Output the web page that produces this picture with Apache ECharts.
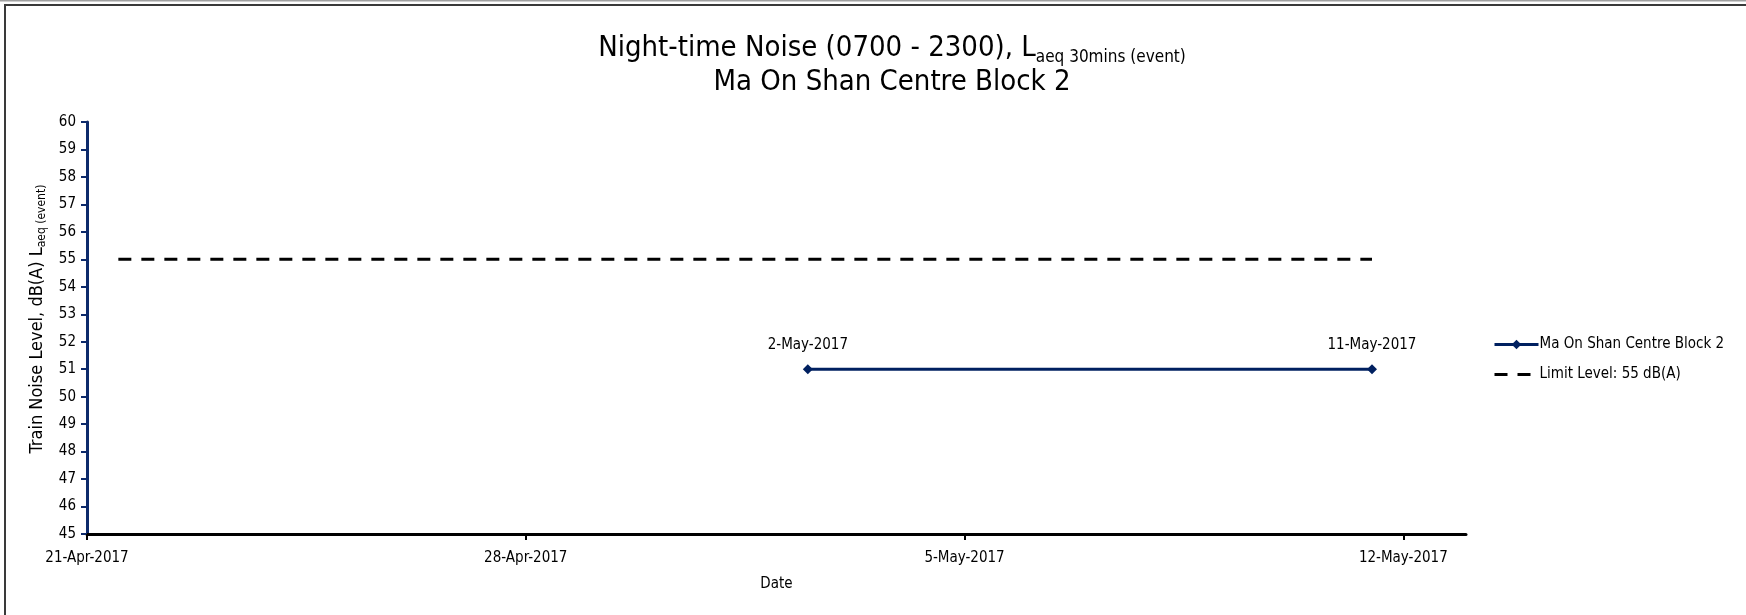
<!DOCTYPE html>
<html>
<head>
<meta charset="utf-8">
<title>Night-time Noise - Ma On Shan Centre Block 2</title>
<script src="https://cdn.jsdelivr.net/npm/echarts@6/dist/echarts.min.js"></script>
<style>
  html, body { margin: 0; padding: 0; background: #fff; }
  #chart { width: 1746px; height: 615px; }
</style>
</head>
<body>
<div id="chart"></div>
<script>
// data
var axisStart = '2017-04-21';
var axisEnd = '2017-05-13';
var tickDates = ['2017-04-21', '2017-04-28', '2017-05-05', '2017-05-12'];

var stationName = 'Ma On Shan Centre Block 2';
var stationDates = ['2017-05-02T12:00', '2017-05-11T12:00'];
var stationValues = [51, 51];

var limitName = 'Limit Level: 55 dB(A)';
var limitDates = ['2017-04-21T12:00', '2017-05-11T12:00'];
var limitValues = [55, 55];

var MONTHS = ['Jan', 'Feb', 'Mar', 'Apr', 'May', 'Jun', 'Jul', 'Aug', 'Sep', 'Oct', 'Nov', 'Dec'];
var FONT = '"Liberation Sans Narrow", "Arial Narrow", "DejaVu Sans Condensed", "Roboto Condensed", sans-serif';

function toMs(s) {
    return Date.parse((s.length === 10 ? s + 'T00:00' : s) + ':00Z');
}
// days from axis start, so ticks can count from min = 0
function dayOffset(s) {
    return (toMs(s) - toMs(axisStart)) / 864e5;
}
function fmtDay(off) {
    var d = new Date(toMs(axisStart) + off * 864e5);
    return d.getUTCDate() + '-' + MONTHS[d.getUTCMonth()] + '-' + d.getUTCFullYear();
}
function pairs(dates, values) {
    return dates.map(function (d, i) { return [dayOffset(d), values[i]]; });
}

var tickOffsets = tickDates.map(dayOffset);

var myChart = echarts.init(document.getElementById('chart'));

var option = {
    backgroundColor: '#fff',
    textStyle: { fontFamily: FONT, color: '#000' },
    graphic: [
        { type: 'line', shape: { x1: 0, y1: 0.5, x2: 1746, y2: 0.5 }, style: { stroke: '#a0a0a0', lineWidth: 2 } },
        { type: 'line', shape: { x1: 4, y1: 5, x2: 1746, y2: 5 }, style: { stroke: '#3a3a3a', lineWidth: 2 } },
        { type: 'line', shape: { x1: 5, y1: 5, x2: 5, y2: 615 }, style: { stroke: '#3a3a3a', lineWidth: 2 } },
        // chart title (sits a bit right of the page centre, as in the original)
        {
            type: 'text',
            x: 892,
            y: 29,
            style: {
                text: '{a|Night-time Noise (0700 - 2300), L}{s|aeq 30mins (event)}\n{a|Ma On Shan Centre Block 2}',
                align: 'center',
                verticalAlign: 'top',
                fill: '#000',
                rich: {
                    a: { fontFamily: FONT, fontSize: 29, lineHeight: 34, fill: '#000', verticalAlign: 'bottom' },
                    s: { fontFamily: FONT, fontSize: 17, lineHeight: 17, fill: '#000', verticalAlign: 'bottom', padding: [0, 0, -3, 0] }
                }
            }
        }
    ],
    legend: {
        orient: 'vertical',
        left: 1488,
        top: 332,
        itemWidth: 44,
        itemHeight: 12,
        itemGap: 15,
        textStyle: { fontFamily: FONT, fontSize: 15, color: '#000', padding: [0, 0, 0, -4] },
        data: [
            { name: stationName, lineStyle: { width: 3 } },
            { name: limitName, lineStyle: { width: 3 }, itemStyle: { opacity: 0 } }
        ]
    },
    grid: { left: 87, right: 280, top: 122, bottom: 81, containLabel: false },
    xAxis: {
        type: 'value',
        min: 0,
        max: dayOffset(axisEnd),
        interval: 7,
        name: 'Date',
        nameLocation: 'middle',
        nameGap: 43,
        nameTextStyle: { fontFamily: FONT, fontSize: 15, color: '#000' },
        axisLine: { onZero: false, lineStyle: { color: '#000', width: 3 } },
        axisTick: { show: true, length: 6, customValues: tickOffsets, lineStyle: { color: '#000', width: 2 } },
        axisLabel: {
            margin: 17,
            fontFamily: FONT, fontSize: 15, color: '#000',
            customValues: tickOffsets,
            formatter: function (v) { return fmtDay(v); }
        },
        splitLine: { show: false }
    },
    yAxis: {
        type: 'value',
        min: 45,
        max: 60,
        interval: 1,
        name: '{a|Train Noise Level, dB(A) L}{s|aeq (event)}',
        nameLocation: 'middle',
        nameGap: 40,
        nameTextStyle: {
            padding: [0, 0, 0, 18],
            rich: {
                a: { fontFamily: FONT, fontSize: 18, lineHeight: 22, color: '#000', verticalAlign: 'bottom' },
                s: { fontFamily: FONT, fontSize: 12, lineHeight: 12, color: '#000', verticalAlign: 'bottom', padding: [0, 0, -2, 0] }
            }
        },
        axisLine: { show: true, lineStyle: { color: '#0d2a6b', width: 3 } },
        axisTick: { show: true, length: 6, lineStyle: { color: '#0d2a6b', width: 2 } },
        axisLabel: { margin: 11, fontFamily: FONT, fontSize: 15, color: '#000' },
        splitLine: { show: false }
    },
    series: [
        {
            name: stationName,
            type: 'line',
            data: pairs(stationDates, stationValues),
            symbol: 'diamond',
            symbolSize: 10,
            color: '#002060',
            lineStyle: { color: '#002060', width: 3 },
            itemStyle: { color: '#002060' },
            label: {
                show: true,
                position: 'top',
                distance: 12,
                fontFamily: FONT,
                fontSize: 15,
                color: '#000',
                formatter: function (p) { return fmtDay(p.value[0] - 0.5); }
            },
            z: 3
        },
        {
            name: limitName,
            type: 'line',
            data: pairs(limitDates, limitValues),
            symbol: 'none',
            color: '#000',
            lineStyle: { color: '#000', width: 3, type: [13, 10] },
            z: 2
        }
    ],
    animation: false
};

myChart.setOption(option);

window.addEventListener('resize', function () {
    myChart.resize();
});
</script>
</body>
</html>
